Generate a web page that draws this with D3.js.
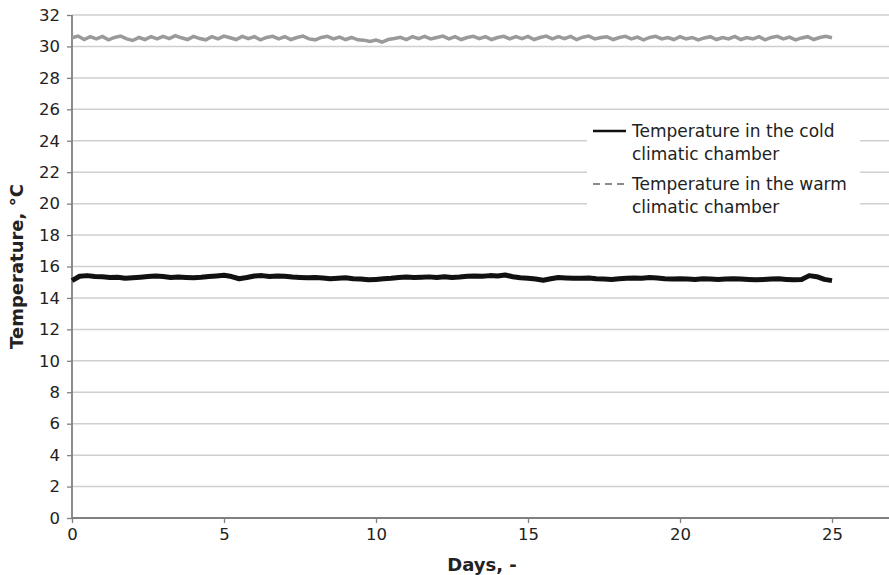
<!DOCTYPE html>
<html>
<head>
<meta charset="utf-8">
<script src="https://cdn.jsdelivr.net/npm/d3@7"></script>
<style>
  body { margin: 0; background: #fff; }
  svg { display: block; font-family: "DejaVu Sans", sans-serif; }
</style>
</head>
<body>
<div id="chart"></div>
<script>
let width = 889, height = 575
let margin = { top: 15, right: -4, bottom: 57, left: 72 }

// DATA
let yTicks = [0, 2, 4, 6, 8, 10, 12, 14, 16, 18, 20, 22, 24, 26, 28, 30, 32]
let xTicks = [0, 5, 10, 15, 20, 25]

// cold chamber, one reading every 0.25 day
let coldStep = 0.25
let coldValues = [
  15.10, 15.38, 15.42, 15.36, 15.35, 15.30, 15.32, 15.25, 15.28, 15.32,
  15.36, 15.40, 15.36, 15.30, 15.33, 15.30, 15.28, 15.31, 15.36, 15.40,
  15.44, 15.36, 15.22, 15.30, 15.40, 15.42, 15.36, 15.40, 15.38, 15.33,
  15.30, 15.28, 15.30, 15.27, 15.22, 15.25, 15.28, 15.22, 15.20, 15.15,
  15.18, 15.22, 15.25, 15.30, 15.33, 15.30, 15.32, 15.34, 15.30, 15.35,
  15.30, 15.33, 15.38, 15.40, 15.38, 15.42, 15.40, 15.46, 15.35, 15.28,
  15.25, 15.20, 15.13, 15.22, 15.30, 15.27, 15.25, 15.25, 15.27, 15.22,
  15.20, 15.18, 15.22, 15.25, 15.27, 15.25, 15.30, 15.27, 15.22, 15.20,
  15.22, 15.20, 15.18, 15.22, 15.20, 15.17, 15.20, 15.22, 15.20, 15.18,
  15.16, 15.18, 15.20, 15.22, 15.18, 15.15, 15.18, 15.42, 15.35, 15.18,
  15.10
]

// warm chamber, one reading every 0.2 day
let warmStep = 0.2
let warmValues = [
  30.55, 30.66, 30.44, 30.62, 30.48, 30.64, 30.42, 30.57, 30.66, 30.48,
  30.38, 30.57, 30.44, 30.62, 30.48, 30.64, 30.50, 30.68, 30.55, 30.44,
  30.64, 30.50, 30.42, 30.62, 30.48, 30.66, 30.55, 30.44, 30.64, 30.50,
  30.62, 30.42, 30.57, 30.64, 30.48, 30.62, 30.44, 30.57, 30.66, 30.48,
  30.42, 30.57, 30.64, 30.48, 30.59, 30.44, 30.57, 30.42, 30.40, 30.32,
  30.40, 30.28, 30.44, 30.50, 30.58, 30.44, 30.62, 30.50, 30.64, 30.48,
  30.57, 30.66, 30.48, 30.62, 30.44, 30.57, 30.64, 30.50, 30.62, 30.44,
  30.57, 30.64, 30.48, 30.62, 30.50, 30.64, 30.44, 30.57, 30.66, 30.48,
  30.62, 30.50, 30.64, 30.44, 30.59, 30.66, 30.48, 30.57, 30.62, 30.44,
  30.57, 30.64, 30.48, 30.59, 30.42, 30.57, 30.64, 30.48, 30.57, 30.44,
  30.62, 30.48, 30.57, 30.42, 30.54, 30.62, 30.44, 30.57, 30.48, 30.64,
  30.44, 30.57, 30.48, 30.62, 30.42, 30.57, 30.64, 30.48, 30.59, 30.42,
  30.54, 30.62, 30.44, 30.57, 30.64, 30.55
]

let cold = coldValues.map((v, i) => ({ day: i * coldStep, value: v }))
let warm = warmValues.map((v, i) => ({ day: i * warmStep, value: v }))

// SCALES
let x = d3.scaleLinear()
  .domain([0, 27])
  .range([margin.left, margin.left + 27 * 30.4])

let y = d3.scaleLinear()
  .domain([0, 32])
  .range([height - margin.bottom, margin.top])

let svg = d3.select('#chart')
  .append('svg')
  .attr('width', width)
  .attr('height', height)

// GRID LINES
svg.append('g')
  .attr('class', 'grid')
  .selectAll('line')
  .data(yTicks.filter(d => d > 0))
  .enter().append('line')
    .attr('x1', x(0))
    .attr('x2', width)
    .attr('y1', d => y(d))
    .attr('y2', d => y(d))
    .style('stroke', '#cfcfcf')
    .style('stroke-width', 1.5)

// AXES
let yAxis = svg.append('g')
  .attr('transform', 'translate(' + x(0) + ',0)')
  .call(d3.axisLeft(y).tickValues(yTicks).tickSize(5).tickPadding(7))

let xAxis = svg.append('g')
  .attr('transform', 'translate(0,' + y(0) + ')')
  .call(d3.axisBottom(x).tickValues(xTicks).tickSize(5).tickPadding(5))

xAxis.select('.domain').attr('d', 'M' + x(0) + ',0H' + width)
yAxis.select('.domain').attr('d', 'M0,' + y(0) + 'V' + y(32))

svg.selectAll('.domain')
  .style('stroke', '#808080')
  .style('stroke-width', 1.8)
svg.selectAll('.tick line')
  .style('stroke', '#808080')
  .style('stroke-width', 1.3)
svg.selectAll('.tick text')
  .style('font-family', '"DejaVu Sans", sans-serif')
  .style('font-size', '16.5px')
  .style('fill', '#222')

// LINES
let line = d3.line()
  .x(d => x(d.day))
  .y(d => y(d.value))

svg.append('path')
  .datum(warm)
  .attr('d', line)
  .style('fill', 'none')
  .style('stroke', '#9a9a9a')
  .style('stroke-width', 3.5)
  .style('stroke-linejoin', 'miter')

svg.append('path')
  .datum(cold)
  .attr('d', line)
  .style('fill', 'none')
  .style('stroke', '#111')
  .style('stroke-width', 5)
  .style('stroke-linejoin', 'round')

// AXIS TITLES
svg.append('text')
  .attr('x', 482)
  .attr('y', 571)
  .style('text-anchor', 'middle')
  .style('font-weight', 'bold')
  .style('font-size', '18px')
  .style('fill', '#222')
  .text('Days, -')

svg.append('text')
  .attr('transform', 'translate(23,' + ((y(0) + y(32)) / 2) + ') rotate(-90)')
  .style('text-anchor', 'middle')
  .style('font-weight', 'bold')
  .style('font-size', '18px')
  .style('fill', '#222')
  .text('Temperature, °C')

// LEGEND
let legend = svg.append('g')
  .attr('class', 'legend')

legend.append('rect')
  .attr('x', 587)
  .attr('y', 116)
  .attr('width', 273)
  .attr('height', 110)
  .style('fill', '#fff')

let legendItems = [
  { lines: ['Temperature in the cold', 'climatic chamber'], y: 131, stroke: '#111', dash: null, w: 2.5 },
  { lines: ['Temperature in the warm', 'climatic chamber'], y: 184, stroke: '#8c8c8c', dash: '7,5', w: 2 }
]

legendItems.forEach(item => {
  legend.append('line')
    .attr('x1', 593)
    .attr('x2', 626)
    .attr('y1', item.y)
    .attr('y2', item.y)
    .style('stroke', item.stroke)
    .style('stroke-width', item.w)
    .style('stroke-dasharray', item.dash)

  legend.append('text')
    .attr('x', 632)
    .attr('y', item.y + 6)
    .style('font-size', '17px')
    .style('fill', '#222')
    .selectAll('tspan')
    .data(item.lines)
    .enter().append('tspan')
      .attr('x', 632)
      .attr('dy', (d, i) => i === 0 ? 0 : 23)
      .text(d => d)
})
</script>
</body>
</html>
